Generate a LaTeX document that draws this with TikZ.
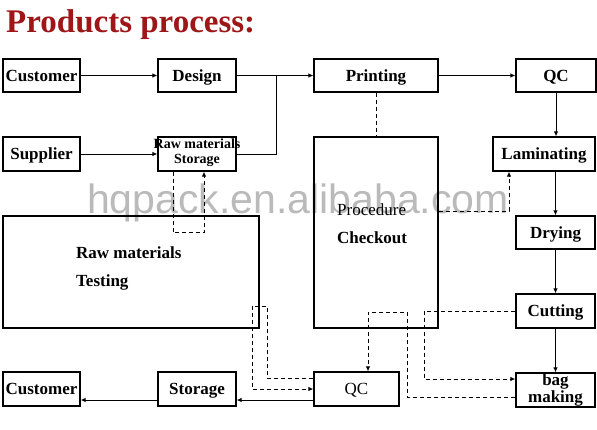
\documentclass[tikz,border=0pt]{standalone}
\usepackage{fontspec}
\setmainfont{Liberation Serif}
\newfontfamily\marksans{Liberation Sans}
\usepackage{xcolor}
\usetikzlibrary{arrows.meta,positioning}
\definecolor{titlered}{RGB}{158,22,24}

\begin{document}
\begin{tikzpicture}[
  x=1pt, y=-1pt, >=Latex,
  frame/.style={draw, line width=1.2pt, minimum height=33pt, minimum width=78pt, inner sep=1pt, align=center,
    font=\bfseries\fontsize{17}{19}\selectfont},
  box/.style={frame, text height=11pt, text depth=0pt},
  small/.style={inner sep=0pt, align=center, font=\bfseries\fontsize{14}{15}\selectfont},
  txt/.style={inner sep=0pt, align=left, font=\bfseries\fontsize{17}{28}\selectfont},
  ln/.style={line width=1pt},
  arr/.style={ln, -{Latex[length=5pt,width=4.5pt]}},
  dln/.style={ln, dash pattern=on 4pt off 3pt},
  darr/.style={arr, dash pattern=on 4pt off 3pt}]
  \useasboundingbox (0,0) rectangle (597,429);
  % --- watermark and title ---
  \node[text=black!27, font=\marksans\fontsize{41}{41}\selectfont, anchor=base west, inner sep=0pt] (mark) at (87,213) {hqpack.en.alibaba.com};
  \node[text=titlered, font=\bfseries\fontsize{33}{33}\selectfont, anchor=base west, inner sep=0pt] (title) at (6,32) {Products process:};
  % --- top row ---
  \node[box, minimum width=77pt] (cust1) at (41.5,75.5) {Customer};
  \node[box] (design) at (197,75.5) {Design};
  \node[box, minimum width=124pt] (print) at (376,75.5) {Printing};
  \node[box, minimum width=80pt] (qc1) at (556,75.5) {QC};
  % --- second row ---
  \node[box, minimum width=77pt, minimum height=34pt] (supp) at (41.5,154) {Supplier};
  \node[box, minimum height=34pt] (rawst) at (197,154) {};
  \node[small] (rawsttxt) at (197,152.5) {Raw materials\\Storage};
  \node[box, minimum width=102pt, minimum height=34pt] (lamin) at (544,154) {Laminating};
  % --- large boxes ---
  \node[box, minimum width=256pt, minimum height=112pt] (test) at (131,272) {};
  \node[txt, anchor=north west] (testtxt) at (76,246.5) {Raw materials\\Testing};
  \node[box, minimum width=124pt, minimum height=191pt] (proc) at (376,232.5) {};
  \node[txt, anchor=north west] (proctxt) at (337,203.4) {{\mdseries Procedure}\\Checkout};
  \node[box, minimum width=79pt] (dry) at (555.5,232.5) {Drying};
  \node[box, minimum width=79pt, minimum height=34pt] (cut) at (555.5,311) {Cutting};
  % --- bottom row ---
  \node[box, minimum width=77pt, minimum height=34pt] (cust2) at (41.5,389) {Customer};
  \node[box, minimum height=34pt] (stor) at (197,389) {Storage};
  \node[box, minimum width=85pt, minimum height=34pt, font=\fontsize{17}{19}\selectfont] (qc2) at (356.5,389) {QC};
  \node[frame, minimum width=79pt, minimum height=34pt, font=\bfseries\fontsize{17}{15}\selectfont] (bag) at (555.5,390) {bag\\making};
  % --- solid flow ---
  \draw[arr] (cust1) -- (design);
  \draw[arr] (supp) -- (rawst);
  \draw[arr] (design) -- (print);
  \coordinate (join) at (276,75.5);
  \draw[ln] (rawst.east) -| (join);
  \draw[arr] (print) -- (qc1);
  \draw[arr] (qc1.south) -- (qc1.south |- lamin.north);
  \draw[arr] (dry.north |- lamin.south) -- (dry.north);
  \draw[arr] (dry) -- (cut);
  \draw[arr] (cut) -- (bag);
  \draw[arr] ([yshift=-11pt]qc2.west) -- ([yshift=-11pt]stor.east);
  \draw[arr] ([yshift=-11pt]stor.west) -- ([yshift=-11pt]cust2.east);
  % --- dashed checks ---
  \draw[dln] (print) -- (proc);
  \draw[darr] ([yshift=21.5pt]proc.east) -| ([xshift=-35pt]lamin.south);
  \draw[darr] ([xshift=-24pt]rawst.south) -- ++(0,61) -| ([xshift=7pt]rawst.south);
  \draw[darr] ([yshift=11pt]qc2.west) -| (267,306) -| (252,389) -- (qc2.west);
  \draw[darr] ([yshift=-7pt]bag.west) -| (407,312) -| ([xshift=11.5pt]qc2.north);
  \draw[darr] (cut.west) -| (424,379) -- ([yshift=11pt]bag.west);
\end{tikzpicture}
\end{document}
